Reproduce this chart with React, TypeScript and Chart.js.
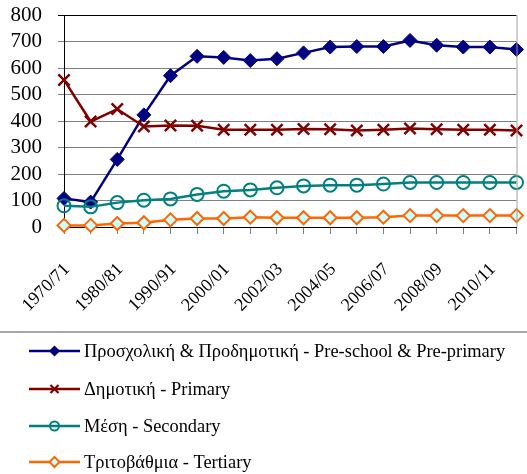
import React, { useEffect, useRef } from "react";
import { Chart, registerables } from "chart.js";

Chart.register(...registerables);

const categories = [
  "1970/71", "1975/76", "1980/81", "1985/86", "1990/91", "1995/96",
  "2000/01", "2001/02", "2002/03", "2003/04", "2004/05", "2005/06",
  "2006/07", "2007/08", "2008/09", "2009/10", "2010/11", "2011/12",
];

const preschool = [108, 94, 255, 423, 571, 644, 640, 628, 635, 657, 679, 681, 681, 704, 686, 679, 679, 670];
const primary = [555, 398, 445, 379, 383, 382, 367, 367, 367, 370, 369, 364, 367, 372, 369, 367, 367, 364];
const secondary = [80, 76, 92, 101, 106, 123, 135, 140, 148, 155, 158, 158, 162, 168, 168, 168, 168, 168];
const tertiary = [6, 6, 13, 16, 27, 32, 32, 37, 35, 35, 35, 35, 37, 43, 43, 43, 43, 43];

const seriesNames = [
  "Προσχολική & Προδημοτική - Pre-school & Pre-primary",
  "Δημοτική - Primary",
  "Μέση - Secondary",
  "Τριτοβάθμια - Tertiary",
];

const yTicks = [0, 100, 200, 300, 400, 500, 600, 700, 800];

const FONT = '"Liberation Serif", "Times New Roman", serif';
const colors = ["#000080", "#800000", "#008080", "#FF6600"];

function drawMarker(ctx: CanvasRenderingContext2D, i: number, x: number, y: number) {
  ctx.save();
  ctx.lineWidth = 2;
  if (i === 0) {
    const r = 5.5;
    ctx.fillStyle = colors[0];
    ctx.beginPath();
    ctx.moveTo(x, y - r); ctx.lineTo(x + r, y); ctx.lineTo(x, y + r); ctx.lineTo(x - r, y);
    ctx.closePath(); ctx.fill();
  } else if (i === 1) {
    const r = 4;
    ctx.strokeStyle = colors[1];
    ctx.lineWidth = 2.2;
    ctx.beginPath();
    ctx.moveTo(x - r, y - r); ctx.lineTo(x + r, y + r);
    ctx.moveTo(x + r, y - r); ctx.lineTo(x - r, y + r);
    ctx.stroke();
  } else if (i === 2) {
    ctx.strokeStyle = colors[2];
    ctx.beginPath(); ctx.arc(x, y, 4.5, 0, Math.PI * 2); ctx.stroke();
  } else {
    const r = 5;
    ctx.fillStyle = "#CCFFFF";
    ctx.strokeStyle = colors[3];
    ctx.beginPath();
    ctx.moveTo(x, y - r); ctx.lineTo(x + r, y); ctx.lineTo(x, y + r); ctx.lineTo(x - r, y);
    ctx.closePath(); ctx.fill(); ctx.stroke();
  }
  ctx.restore();
}

const legendPlugin = {
  id: "customLegend",
  afterDraw(chart: any) {
    const ctx: CanvasRenderingContext2D = chart.ctx;
    const { chartArea } = chart;
    ctx.save();
    ctx.strokeStyle = "#a0a0a0";
    ctx.lineWidth = 1;
    ctx.beginPath();
    ctx.moveTo(chartArea.right + 0.5, chartArea.top);
    ctx.lineTo(chartArea.right + 0.5, chartArea.bottom);
    ctx.stroke();
    ctx.strokeStyle = "#a6a6a6";
    ctx.lineWidth = 2;
    ctx.beginPath();
    ctx.moveTo(0, 332);
    ctx.lineTo(chart.width, 332);
    ctx.stroke();
    const ys = [351, 389, 426, 462];
    seriesNames.forEach((name, i) => {
      const y = ys[i];
      ctx.strokeStyle = colors[i];
      ctx.lineWidth = 2.5;
      ctx.beginPath();
      ctx.moveTo(29, y);
      ctx.lineTo(80, y);
      ctx.stroke();
      drawMarker(ctx, i, 54.5, y);
      ctx.fillStyle = "#000";
      ctx.font = `18.4px ${FONT}`;
      ctx.textBaseline = "middle";
      ctx.textAlign = "left";
      ctx.fillText(name, 84, y + 1);
    });
    ctx.restore();
  },
};

export default function App() {
  const canvasRef = useRef<HTMLCanvasElement | null>(null);

  useEffect(() => {
    document.body.style.margin = "0";
    const canvas = canvasRef.current;
    if (!canvas) return;
    const chart = new Chart(canvas, {
      type: "line",
      data: {
        labels: categories,
        datasets: [
          {
            label: seriesNames[0],
            data: preschool,
            borderColor: colors[0],
            backgroundColor: colors[0],
            borderWidth: 2.5,
            pointStyle: "rectRot",
            pointRadius: 7,
            pointBorderWidth: 1,
            pointBackgroundColor: colors[0],
            pointBorderColor: colors[0],
            clip: false,
            order: 3,
          },
          {
            label: seriesNames[1],
            data: primary,
            borderColor: colors[1],
            backgroundColor: colors[1],
            borderWidth: 2.5,
            pointStyle: "crossRot",
            pointRadius: 8,
            pointBorderWidth: 2.5,
            pointBorderColor: colors[1],
            clip: false,
            order: 2,
          },
          {
            label: seriesNames[2],
            data: secondary,
            borderColor: colors[2],
            backgroundColor: "rgba(0,0,0,0)",
            borderWidth: 2.5,
            pointStyle: "circle",
            pointRadius: 6.5,
            pointBorderWidth: 2,
            pointBackgroundColor: "rgba(0,0,0,0)",
            pointBorderColor: colors[2],
            clip: false,
            order: 1,
          },
          {
            label: seriesNames[3],
            data: tertiary,
            borderColor: colors[3],
            backgroundColor: "#CCFFFF",
            borderWidth: 2.5,
            pointStyle: "rectRot",
            pointRadius: 6.5,
            pointBorderWidth: 2,
            pointBackgroundColor: "#CCFFFF",
            pointBorderColor: colors[3],
            clip: false,
            order: 0,
          },
        ],
      },
      options: {
        responsive: false,
        animation: false,
        maintainAspectRatio: false,
        layout: { padding: { left: 0, right: 9, top: 15, bottom: 142 } },
        plugins: {
          legend: { display: false },
          tooltip: { enabled: false },
        },
        scales: {
          x: {
            type: "category",
            offset: false,
            grid: {
              display: true,
              drawOnChartArea: false,
              drawTicks: true,
              tickLength: 7,
              color: "#808080",
            },
            border: { display: true, color: "#000", width: 1 },
            ticks: {
              autoSkip: false,
              maxRotation: 45,
              minRotation: 45,
              padding: 25,
              labelOffset: 3,
              color: "#000",
              font: { family: FONT, size: 18 },
              callback: (_v: any, idx: number) => (idx % 2 === 0 ? categories[idx] : ""),
            },
            afterFit: (scale: any) => {
              scale.height = 105;
              scale.paddingLeft = 0;
              scale.paddingRight = 0;
            },
          },
          y: {
            min: 0,
            max: 800,
            afterBuildTicks: (scale: any) => {
              scale.ticks = yTicks.map((v) => ({ value: v }));
            },
            grid: {
              color: (c: any) => (c.tick && c.tick.value === 800 ? "#000" : "#808080"),
              tickLength: 6,
              lineWidth: 1,
            },
            border: { display: true, color: "#000", width: 1 },
            ticks: {
              autoSkip: false,
              padding: 16,
              color: "#000",
              font: { family: FONT, size: 21 },
            },
            afterFit: (scale: any) => {
              scale.width = 64;
              scale.paddingTop = 0;
              scale.paddingBottom = 0;
            },
          },
        },
      },
      plugins: [legendPlugin],
    });
    return () => chart.destroy();
  }, []);

  return (
    <div style={{ width: 527, height: 474 }}>
      <canvas ref={canvasRef} width={527} height={474} style={{ display: "block" }} />
    </div>
  );
}
